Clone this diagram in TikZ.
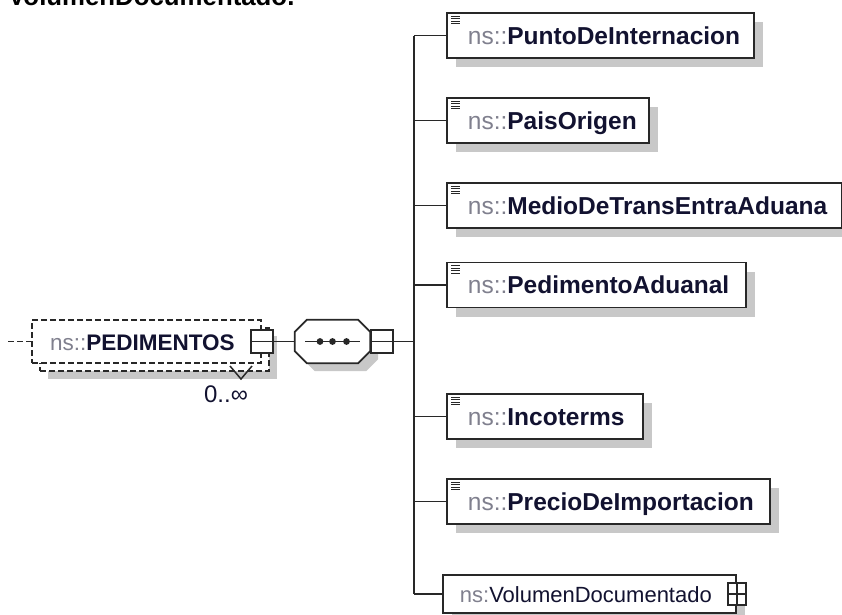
\documentclass[tikz,border=0pt]{standalone}
\usepackage{fontspec}
\setmainfont{Liberation Sans}
\usetikzlibrary{shadows}

\definecolor{nsgray}{RGB}{128,128,142}
\definecolor{namec}{RGB}{18,18,48}
\definecolor{linec}{RGB}{40,40,40}
\definecolor{shadowc}{RGB}{200,200,200}

\newcommand{\nsel}[1]{{\color{nsgray}\mdseries ns::}\textbf{#1}}

\begin{document}
\begin{tikzpicture}[x=1pt,y=-1pt,
  elem/.style={draw=linec, line width=1.8pt, fill=white, anchor=west,
    minimum height=45pt, inner xsep=0pt, inner ysep=0pt, align=left,
    text height=17.5pt, text depth=0pt, text=namec,
    font=\fontsize{24.5}{28}\selectfont,
    execute at begin node={\hspace*{#1}},
    drop shadow={shadow xshift=9pt, shadow yshift=-9pt, fill=shadowc, opacity=1}},
  elem/.default=21pt,
  conn/.style={draw=linec, line width=1.8pt},
  minusbox/.style={draw=linec, line width=1.5pt, fill=white, inner sep=0pt,
    minimum width=22pt, minimum height=23pt,
    path picture={\draw[linec, line width=1.5pt] (path picture bounding box.west) -- (path picture bounding box.east);}},
  plusbox/.style={minusbox, minimum width=18pt, minimum height=22pt,
    path picture={\draw[linec, line width=1.5pt] (path picture bounding box.west) -- (path picture bounding box.east)
      (path picture bounding box.north) -- (path picture bounding box.south);}},
  optbox/.style={draw=linec, line width=1.8pt, dash pattern=on 6pt off 3pt, fill=white,
    minimum width=229pt, minimum height=43pt, inner sep=0pt}]
\useasboundingbox (0,0) rectangle (842,614);
\clip (0,0) rectangle (842,614);

% cut text above
\node[anchor=base west, inner sep=0pt, font=\fontsize{25.8}{30}\selectfont\bfseries] (caption) at (8,5) {VolumenDocumentado.};

% PEDIMENTOS, repeated 0..oo
\node[optbox, drop shadow={shadow xshift=8pt, shadow yshift=-8pt, fill=shadowc, opacity=1}] (pedback) at (154.5,349.5) {};
\draw[linec, line width=1.5pt] (230,366) -- (241,379) -- (252,366);
\node[optbox, align=left, text width=229pt, text height=17pt, text depth=0pt, text=namec,
  font=\fontsize{22.5}{26}\selectfont, execute at begin node={\hspace*{18pt}}] (ped) at (146.5,341.5) {\nsel{PEDIMENTOS}};
\node[minusbox] (pedminus) at (ped.east) {};
\node[text=namec, font=\fontsize{24}{28}\selectfont, inner sep=0pt] (occ) at (226,394) {0..∞};
\coordinate (in) at (8,341.5);
\draw[conn, dash pattern=on 6pt off 3pt] (in) -- (ped.west);

% sequence
\node[minimum width=75pt, minimum height=43pt, inner sep=0pt] (seq) at (332.5,341.5) {};
\draw[conn, fill=white, drop shadow={shadow xshift=8pt, shadow yshift=-8pt, fill=shadowc, opacity=1}]
  ([xshift=12pt]seq.north west) -- ([xshift=-12pt]seq.north east) -- ([yshift=-12pt]seq.north east)
  -- ([yshift=12pt]seq.south east) -- ([xshift=-12pt]seq.south east) -- ([xshift=12pt]seq.south west)
  -- ([yshift=12pt]seq.south west) -- ([yshift=-12pt]seq.north west) -- cycle;
\draw[conn] ([xshift=-27.5pt]seq.center) -- ([xshift=27.5pt]seq.center);
\foreach \dx in {-12.5,0,14}
  \fill[linec] ([xshift=\dx pt]seq.center) circle (3.4pt);
\node[minusbox, anchor=west] (seqminus) at (seq.east) {};
\draw[conn] (pedminus) -- (seq);

% children
\node[elem, text width=307pt] (punto) at (446,35.5) {\nsel{PuntoDeInternacion}};
\node[elem, text width=202pt] (pais) at (446,120.5) {\nsel{PaisOrigen}};
\node[elem, text width=395pt] (medio) at (446,205.5) {\nsel{MedioDeTransEntraAduana}};
\node[elem, text width=299pt] (pedim) at (446,285) {\nsel{PedimentoAduanal}};
\node[elem, text width=196pt] (inco) at (446,416.5) {\nsel{Incoterms}};
\node[elem, text width=323pt] (precio) at (446,501.5) {\nsel{PrecioDeImportacion}};
\node[elem=17pt, text width=293pt, minimum height=38pt, text height=16pt,
  font=\fontsize{22}{26}\selectfont] (vol) at (442,594) {{\color{nsgray}ns:}VolumenDocumentado};
\node[plusbox] (volplus) at (vol.east) {};

\foreach \n in {punto,pais,medio,pedim,inco,precio}
  \foreach \k in {4,6.5,9,11.5}
    \draw[linec, line width=1.1pt] ([shift={(5pt,-\k pt)}]\n.north west) -- ++(9,0);

% trunk
\coordinate (trunk) at (414,341.5);
\draw[conn] (trunk |- punto.west) -- (trunk |- vol.west);
\draw[conn] (seqminus) -- (trunk);
\foreach \n in {punto,pais,medio,pedim,inco,precio,vol}
  \draw[conn] (trunk |- \n.west) -- (\n.west);
\end{tikzpicture}
\end{document}
